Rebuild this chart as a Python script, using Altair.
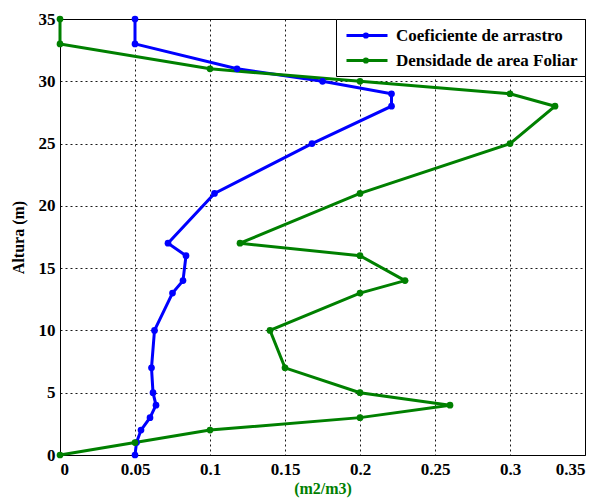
import altair as alt
import pandas as pd

alturas = [35, 33, 31, 30, 29, 28, 25, 21, 17, 16, 14, 13, 10, 7, 5, 4, 3, 2, 1, 0]
coef_arrastro = [0.05, 0.05, 0.118, 0.175, 0.221, 0.221, 0.168, 0.103, 0.072, 0.084,
                 0.082, 0.075, 0.063, 0.061, 0.062, 0.064, 0.060, 0.054, 0.051, 0.05]
dens_foliar = [0.0, 0.0, 0.1, 0.2, 0.3, 0.33, 0.3, 0.2, 0.12, 0.2,
               0.23, 0.2, 0.14, 0.15, 0.2, 0.26, 0.2, 0.1, 0.05, 0.0]
series_names = ["Coeficiente de arrastro", "Densidade de area Foliar"]
series_colors = ["#0000ff", "#008000"]
x_ticks = [0, 0.05, 0.1, 0.15, 0.2, 0.25, 0.3, 0.35]
y_ticks = [0, 5, 10, 15, 20, 25, 30, 35]

rows = []
for name, vals in zip(series_names, [coef_arrastro, dens_foliar]):
    for i, (h, v) in enumerate(zip(alturas, vals)):
        rows.append({"serie": name, "x": v, "y": h, "idx": i})
df = pd.DataFrame(rows)

FONT = "Liberation Serif"

x_enc = alt.X("x:Q", scale=alt.Scale(domain=[0, 0.35], nice=False, zero=False),
              axis=alt.Axis(values=x_ticks, format=".2~f", title="(m2/m3)",
                            titleColor="#008000", grid=True, labelPadding=6,
                            titlePadding=3))
y_enc = alt.Y("y:Q", scale=alt.Scale(domain=[0, 35], nice=False),
              axis=alt.Axis(values=y_ticks, title="Altura (m)", grid=True,
                            labelPadding=5, titlePadding=12))
color_scale = alt.Scale(domain=series_names, range=series_colors)

legend_symbol = "M-0.75,0H4.375M1.675,-0.2A0.2,0.2 0 1,1 1.675,0.2A0.2,0.2 0 1,1 1.675,-0.2"

lines = alt.Chart(df).mark_line(strokeWidth=3).encode(
    x=x_enc, y=y_enc,
    color=alt.Color("serie:N", scale=color_scale,
                    legend=alt.Legend(title=None, symbolType=legend_symbol,
                                      symbolSize=256, symbolStrokeWidth=3,
                                      labelOffset=34, labelLimit=400)),
    order="idx:Q",
    detail="serie:N",
)
points = alt.Chart(df).mark_circle(size=45, opacity=1).encode(
    x="x:Q", y="y:Q",
    color=alt.Color("serie:N", scale=color_scale, legend=None),
)

chart = alt.layer(lines, points).properties(
    width=525, height=436,
    autosize=alt.AutoSizeParams(type="none"),
    padding={"left": 60, "top": 19, "right": 15, "bottom": 43},
).configure_view(
    stroke="#000000", strokeWidth=1
).configure_axis(
    labelFont=FONT, labelFontSize=17, labelFontWeight="bold", labelColor="#000000",
    titleFont=FONT, titleFontSize=16, titleFontWeight="bold", titleColor="#000000",
    gridColor="#000000", gridDash=[2, 3], gridWidth=1, gridOpacity=0.9,
    domain=False, ticks=False,
).configure_legend(
    orient="top-right", offset=0, strokeColor="#000000", strokeWidth=1,
    fillColor="#ffffff", padding=7, labelFont=FONT, labelFontSize=17,
    labelFontWeight="bold", labelColor="#000000", rowPadding=7, cornerRadius=0,
)

chart.save("out.html", embed_options={"renderer": "svg", "actions": False})
